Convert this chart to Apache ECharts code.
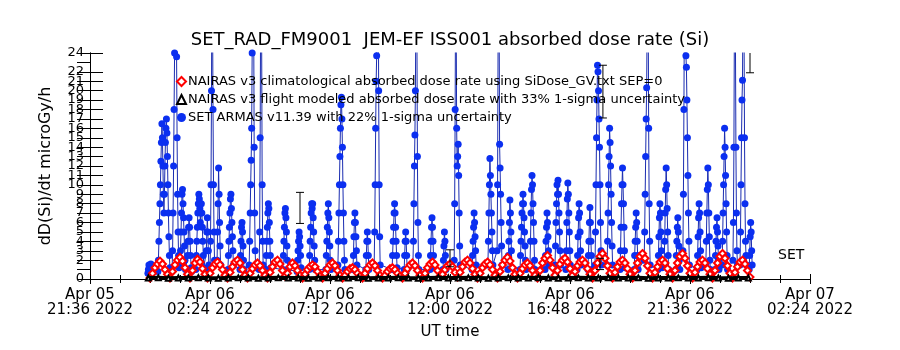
<!DOCTYPE html>
<html>
<head>
<meta charset="utf-8">
<script src="https://cdn.jsdelivr.net/npm/echarts@6/dist/echarts.min.js"></script>
<style>
  html, body { margin: 0; padding: 0; background: #fff; }
  #doseGraph { width: 900px; height: 350px; }
</style>
</head>
<body>
<div id="doseGraph"></div>
<script>
// x axis is in minutes after Apr 05 2022 21:36 UT, ticks every 4h48m
var xTickLabels = ['Apr 05\n21:36 2022', 'Apr 06\n02:24 2022', 'Apr 06\n07:12 2022', 'Apr 06\n12:00 2022',
    'Apr 06\n16:48 2022', 'Apr 06\n21:36 2022', 'Apr 07\n02:24 2022'];
var xTickStep = 288;

// NAIRAS v3 climatological, sampled every 6 min from minute 144
var climStart = 144, climStep = 6;
var climDose = [
    0.1, 0.6, 1.2, 1.6, 1.9, 1.6, 1.0, 0.5, 0.1,
    0.8, 1.5, 2.0, 2.3, 1.9, 1.2, 0.5, 0.1,
    0.9, 1.7, 2.1, 1.8, 1.1, 0.5, 0.1,
    0.6, 1.2, 1.6, 1.8, 1.5, 1.0, 0.4, 0.1,
    0.7, 1.3, 1.8, 2.0, 1.7, 1.0, 0.4, 0.1,
    0.6, 1.1, 1.5, 1.7, 1.4, 0.9, 0.4, 0.1,
    0.7, 1.3, 1.8, 2.0, 1.6, 0.9, 0.3,
    0.6, 1.3, 1.7, 1.4, 0.9, 0.4, 0.1,
    0.5, 1.0, 1.3, 1.5, 1.3, 0.8, 0.3, 0.1,
    0.6, 1.1, 1.5, 1.7, 1.4, 0.9, 0.4, 0.1,
    0.4, 0.8, 1.1, 1.2, 1.0, 0.6, 0.3, 0.1,
    0.6, 1.1, 1.5, 1.7, 1.4, 0.9, 0.4, 0.1,
    0.4, 0.8, 1.1, 1.2, 1.0, 0.6, 0.3, 0.1,
    0.6, 1.1, 1.5, 1.7, 1.4, 0.9, 0.4, 0.1,
    0.6, 1.2, 1.6, 1.8, 1.5, 0.9, 0.3,
    0.5, 1.0, 1.4, 1.6, 1.3, 0.7, 0.2,
    0.7, 1.3, 1.8, 2.0, 1.7, 1.1, 0.5, 0.1,
    0.6, 1.2, 1.6, 1.8, 1.5, 1.0, 0.4, 0.1,
    0.8, 1.5, 2.0, 2.3, 1.9, 1.2, 0.5, 0.1,
    0.6, 1.1, 1.5, 1.7, 1.4, 0.9, 0.4, 0.1,
    0.9, 1.7, 2.2, 2.5, 2.0, 1.2, 0.4,
    0.9, 1.6, 2.0, 2.2, 1.8, 1.1, 0.4,
    0.8, 1.4, 1.8, 2.0, 1.7, 1.1, 0.5, 0.1,
    0.9, 1.7, 2.4, 2.7, 2.2, 1.4, 0.6, 0.1,
    0.7, 1.3, 1.8, 2.0, 1.7, 1.1, 0.5, 0.1,
    0.9, 1.7, 2.4, 2.7, 2.2, 1.4, 0.6, 0.1,
    0.7, 1.3, 1.8, 2.0, 1.7, 1.1, 0.5, 0.1,
    0.9, 1.7, 2.4, 2.7, 2.2, 1.4, 0.6, 0.1,
    0.7, 1.3, 1.8, 2.0, 1.7, 1.1, 0.5, 0.1,
    0.9, 1.7, 2.4, 2.7, 2.2, 1.4, 0.6, 0.1,
    0.7, 1.3, 1.8, 2.0, 1.6, 0.9, 0.2
];

// NAIRAS v3 flight modeled, every 24 min from minute 140
var flightStart = 140, flightStep = 24;
var flightDose = [
    0.10, 0.12, 0.09, 0.11, 0.10, 0.13, 0.10, 0.09, 0.11, 0.12, 0.10, 0.09, 0.10, 0.12, 0.11, 0.10,
    0.09, 0.11, 0.13, 0.10, 0.10, 0.12, 0.09, 0.11, 0.10, 0.12, 0.10, 0.09, 0.11, 0.13, 0.10, 0.10,
    0.12, 0.11, 0.09, 0.10, 0.12, 0.10, 0.11, 0.13, 0.10, 0.09, 0.11, 0.12, 0.10, 0.10, 0.13, 0.11,
    0.10, 0.12, 0.09, 0.11, 0.10, 0.12, 0.10, 0.11, 0.13, 0.10, 0.09, 0.11, 0.10
];

// flight model error bars: minute, low, high
var errMinute = [504, 864, 1224, 1231, 1584];
var errLow = [5.9, 1.3, 1.0, 17.1, 21.9];
var errHigh = [9.2, 3.1, 2.2, 22.7, 26];

// SET ARMAS passes: start minute, then readings every 1.2 min
var setStep = 1.2;
var setPassStart = [139, 163, 197, 216, 233, 254, 278, 288, 305, 331, 360, 382, 406, 422, 463, 497, 526,
    566, 595, 631, 662, 682, 725, 754, 775, 816, 847, 874, 917, 955, 977, 1003, 1032, 1056, 1092, 1116,
    1142, 1169, 1195, 1212, 1241, 1272, 1306, 1330, 1363, 1378, 1406, 1423, 1457, 1478, 1500, 1517,
    1543, 1560, 1582];
var setPassDose = [
    [0.6, 1.0, 1.5, 1.2, 0.8, 1.4, 1.6, 1.1, 0.7],
    [0.8, 2, 4, 6, 8, 10, 12.5, 14.5, 16.5, 15, 12, 9, 7, 9, 12, 14.5, 16, 17, 15.5, 13, 10, 7, 4.5, 2.5, 1.2],
    [1, 3, 7, 12, 18, 24, 32, 40, 30, 23.6, 15, 9, 5, 2.5, 1.2],
    [1.5, 3, 5, 7, 9, 9.5, 8, 6.5, 5, 3.5, 2, 1],
    [1, 2.5, 4, 5.5, 6.5, 5.5, 4, 2.5, 1.2, 0.8],
    [1, 2.5, 4, 5.5, 7, 8, 9, 8.5, 7.5, 6, 7, 8, 7, 5.5, 4, 2.5, 1.2],
    [1, 3, 5, 6.5, 5, 3, 1.5],
    [1, 4, 10, 20, 35, 30, 18, 10, 5, 2],
    [2, 5, 8, 11.8, 9, 6, 3.5, 1.5],
    [1, 2.5, 4, 5.5, 7, 8.5, 9, 7.5, 6, 4.5, 3, 1.5],
    [1, 2.5, 4, 5.5, 6, 5, 3.5, 2, 1],
    [1.5, 4, 7, 10, 12.6, 16, 24, 35, 45, 28, 14, 7, 3, 1.2],
    [1, 5, 15, 30, 50, 25, 10, 4, 1.5],
    [1, 2.5, 4, 5.5, 7, 8, 7.5, 6, 4, 2.5, 1.2],
    [1, 2.5, 4, 5.5, 7, 7.5, 6.5, 5, 3.5, 2, 1],
    [0.8, 2, 3, 4, 5, 4.5, 3.5, 2.5, 1.2],
    [1, 2.5, 4, 5.5, 7, 8, 7.5, 8, 6.5, 5, 3.5, 2, 1],
    [1, 2.5, 4, 5.5, 7, 8, 6.5, 5, 3.5, 2, 1],
    [1.5, 4, 7, 10, 13, 16, 18.5, 19.3, 17, 14, 10, 7, 4, 2, 1],
    [1, 2.5, 4.5, 6, 7, 6, 4.5, 3, 1.5],
    [1, 2.5, 4, 5, 4, 2.5, 1],
    [1.5, 5, 10, 16, 21, 23.7, 30, 45, 35, 20, 10, 4.5, 1.5],
    [1, 2.5, 4, 5.5, 7, 8, 7, 5.5, 4, 2.5, 1.2],
    [1, 2.5, 4, 5, 4, 2.5, 1],
    [1.5, 4, 8, 12, 15.3, 20, 30, 42, 26, 13, 6, 2.5, 1],
    [1, 2.5, 4, 5.5, 6.5, 5.5, 4, 2.5, 1.2],
    [1, 2, 3.5, 5, 4, 2.5, 1],
    [2, 8, 18, 35, 28, 16, 12, 13, 14.3, 11, 7, 3.5, 1.5],
    [1, 2.5, 4, 5.5, 7, 6, 4.5, 3, 1.5],
    [1.5, 4, 7, 10, 12.8, 11, 9, 7, 5, 3, 1.5],
    [3, 10, 25, 45, 30, 14.3, 11.8, 9, 6, 3.5, 1.5],
    [1, 2.5, 4, 6, 8.4, 7, 5, 3, 1.2],
    [1, 2.5, 4, 5.5, 7, 8, 9, 8, 6.5, 5, 3.5, 2, 1],
    [1.5, 4, 7, 9.5, 11, 10, 8, 6, 4, 2, 1],
    [1, 2.5, 4, 5.5, 7, 6, 4.5, 3, 1.5],
    [1.5, 3.5, 6, 8, 10, 9, 10.5, 9, 7, 5, 3, 1.5],
    [1, 3, 6, 8.5, 10.2, 9, 7, 5, 3, 1.5],
    [1, 2.5, 4.5, 6.5, 8, 7, 5, 3, 1.5],
    [1, 2.5, 4, 6, 7.6, 6, 4, 2.5, 1],
    [1.5, 5, 10, 15, 19, 22.7, 22, 20, 17, 14, 10, 6, 3, 1.5],
    [1.5, 4, 7, 10, 13, 16, 14.5, 12, 9, 6, 3.5, 1.5],
    [1, 3, 5.5, 8, 10, 11.8, 10, 8, 5.5, 3, 1.2],
    [1, 2.5, 4, 5.5, 7, 6, 4, 2.5, 1],
    [2, 5, 9, 13, 17, 20.3, 28, 45, 30, 16, 8, 4, 1.5],
    [1, 2.5, 4.5, 6.5, 8, 7, 5, 3, 1.2],
    [1.5, 4, 7, 9.5, 11.8, 10, 7.5, 5, 2.5, 1],
    [1, 2.5, 4, 5.5, 6.5, 5, 3.5, 2, 1],
    [3, 9, 18, 30, 45, 35, 23.7, 22.5, 19, 15, 11, 7, 4, 1.5],
    [1, 2.5, 4.5, 6.5, 8, 7, 5, 3, 1.2],
    [1.5, 4, 7, 9.5, 11.8, 10, 7, 4.5, 2, 1],
    [1, 2.5, 4, 5.5, 6.5, 5, 3.5, 2, 1],
    [1.5, 4, 7, 10, 13, 16, 14, 11, 8, 5, 2.5, 1],
    [2, 6, 14, 28, 40, 26, 14, 7, 3, 1.5],
    [1.5, 5, 10, 15, 19, 21.1, 30, 42, 28, 15, 8, 4, 2.5, 1.5],
    [1, 2.5, 4.5, 6, 5, 3, 1.5]
];

var doseEchart;

function buildSeriesData() {
    var clim = [], flight = [], set = [], errs = [];
    for (var i = 0; i < climDose.length; i++) {
        clim.push([climStart + i * climStep, climDose[i]]);
    }
    for (var j = 0; j < flightDose.length; j++) {
        flight.push([flightStart + j * flightStep, flightDose[j]]);
    }
    for (var p = 0; p < setPassStart.length; p++) {
        var vals = setPassDose[p];
        for (var k = 0; k < vals.length; k++) {
            set.push([setPassStart[p] + k * setStep, vals[k]]);
        }
    }
    for (var e = 0; e < errMinute.length; e++) {
        errs.push([errMinute[e], errLow[e], errHigh[e]]);
    }
    return { clim: clim, flight: flight, set: set, errs: errs };
}

function initDoseGraph() {
    doseEchart = echarts.init(document.getElementById('doseGraph'));
    var d = buildSeriesData();
    var axisFont = 'DejaVu Sans';
    var doseOptions = {
        animation: false,
        backgroundColor: '#fff',
        title: {
            text: 'SET_RAD_FM9001  JEM-EF ISS001 absorbed dose rate (Si)',
            left: 'center',
            top: 26,
            textStyle: { fontFamily: axisFont, fontSize: 18, fontWeight: 'normal', color: '#000' }
        },
        legend: {
            orient: 'vertical',
            left: 171,
            top: 70,
            itemWidth: 9,
            itemHeight: 9,
            itemGap: 5,
            textStyle: { fontFamily: axisFont, fontSize: 13, color: '#000', padding: [0, 0, 0, -3] },
            data: [
                { name: 'NAIRAS v3 climatological absorbed dose rate using SiDose_GV.txt SEP=0', icon: 'emptyDiamond' },
                { name: 'NAIRAS v3 flight modeled absorbed dose rate with 33% 1-sigma uncertainty', icon: 'emptyTriangle' },
                { name: 'SET ARMAS v11.39 with 22% 1-sigma uncertainty', icon: 'circle' }
            ]
        },
        grid: {
            left: 90,
            right: 90,
            top: 53,
            bottom: 71
        },
        xAxis: [{
            type: 'value',
            min: 0,
            max: 1728,
            interval: xTickStep,
            position: 'bottom',
            name: 'UT time',
            nameLocation: 'middle',
            nameGap: 46,
            nameTextStyle: { fontFamily: axisFont, fontSize: 15, color: '#000' },
            axisLine: { show: true, lineStyle: { color: '#000', width: 1 } },
            axisTick: { show: true, inside: true, length: 5, lineStyle: { color: '#000' } },
            minorTick: { show: true, splitNumber: 4, length: 4, lineStyle: { color: '#000' } },
            splitLine: { show: false },
            axisLabel: {
                margin: 9,
                fontFamily: axisFont,
                fontSize: 15,
                lineHeight: 15,
                color: '#000',
                formatter: function (v) {
                    return xTickLabels[Math.round(v / xTickStep)];
                }
            }
        }, {
            type: 'value',
            min: 0,
            max: 1728,
            interval: xTickStep,
            position: 'top',
            axisLine: { show: true, lineStyle: { color: '#000', width: 1 } },
            axisTick: { show: true, inside: true, length: 5, lineStyle: { color: '#000' } },
            minorTick: { show: true, splitNumber: 4, length: 4, lineStyle: { color: '#000' } },
            splitLine: { show: false },
            axisLabel: { show: false }
        }],
        yAxis: [{
            type: 'value',
            min: 0,
            max: 24,
            interval: 1,
            position: 'left',
            name: 'dD(Si)/dt microGy/h',
            nameLocation: 'middle',
            nameGap: 36,
            nameTextStyle: { fontFamily: axisFont, fontSize: 16, color: '#000' },
            axisLine: { show: true, lineStyle: { color: '#000', width: 1 } },
            axisTick: { show: true, inside: true, length: 13, lineStyle: { color: '#000' } },
            splitLine: { show: false },
            axisLabel: {
                margin: 6, fontFamily: axisFont, fontSize: 13, color: '#000',
                showMinLabel: true, showMaxLabel: true, hideOverlap: false
            }
        }, {
            type: 'value',
            min: 0,
            max: 24,
            interval: 1,
            position: 'right',
            axisLine: { show: true, lineStyle: { color: '#000', width: 1 } },
            axisTick: { show: true, inside: true, length: 13, lineStyle: { color: '#000' } },
            splitLine: { show: false },
            axisLabel: { show: false }
        }],
        graphic: [{
            type: 'text',
            left: 778,
            top: 248,
            style: { text: 'SET', font: '14px DejaVu Sans', fill: '#000' }
        }],
        series: [{
            name: 'SET ARMAS v11.39 with 22% 1-sigma uncertainty',
            type: 'line',
            data: d.set,
            symbol: 'circle',
            symbolSize: 7,
            showAllSymbol: true,
            clip: true,
            z: 2,
            lineStyle: { color: '#1a2cb0', width: 1 },
            itemStyle: { color: '#0b2ff0' }
        }, {
            name: 'NAIRAS v3 climatological absorbed dose rate using SiDose_GV.txt SEP=0',
            type: 'line',
            data: d.clim,
            symbol: 'emptyDiamond',
            symbolSize: 7,
            showAllSymbol: true,
            z: 3,
            lineStyle: { color: '#ff0000', width: 3 },
            itemStyle: { color: '#ff0000', borderWidth: 1.5 }
        }, {
            name: 'NAIRAS v3 flight modeled absorbed dose rate with 33% 1-sigma uncertainty',
            type: 'line',
            data: d.flight,
            symbol: 'emptyTriangle',
            symbolSize: 5,
            showAllSymbol: true,
            z: 4,
            lineStyle: { color: '#000', width: 4 },
            itemStyle: { color: '#000' }
        }, {
            name: 'flightErr',
            type: 'custom',
            data: d.errs,
            clip: true,
            z: 5,
            encode: { x: 0, y: [1, 2] },
            renderItem: function (params, api) {
                var lo = api.coord([api.value(0), api.value(1)]);
                var hi = api.coord([api.value(0), api.value(2)]);
                var style = { stroke: '#000', lineWidth: 1 };
                return {
                    type: 'group',
                    children: [
                        { type: 'line', shape: { x1: lo[0], y1: lo[1], x2: hi[0], y2: hi[1] }, style: style },
                        { type: 'line', shape: { x1: lo[0] - 4, y1: lo[1], x2: lo[0] + 4, y2: lo[1] }, style: style },
                        { type: 'line', shape: { x1: hi[0] - 4, y1: hi[1], x2: hi[0] + 4, y2: hi[1] }, style: style }
                    ]
                };
            }
        }]
    };
    doseEchart.setOption(doseOptions);
}

initDoseGraph();
window.addEventListener('resize', function () {
    doseEchart.resize();
});
</script>
</body>
</html>
